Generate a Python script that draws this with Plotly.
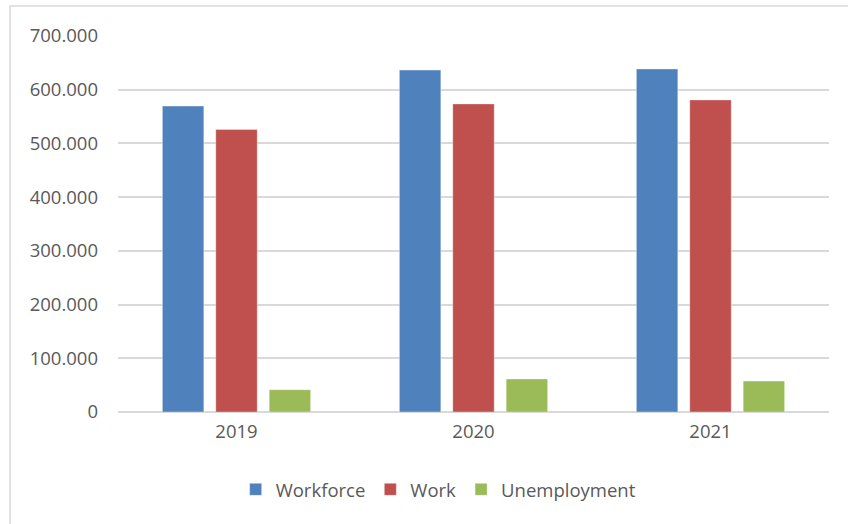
import plotly.graph_objects as go

# Labour market figures by year
years = ["2019", "2020", "2021"]
workforce = [569500, 636500, 638500]
work = [526000, 573500, 581000]
unemployment = [41500, 61500, 57500]

series_names = ["Workforce", "Work", "Unemployment"]
series_colors = ["#4F81BD", "#C0504D", "#9BBB59"]
y_ticks = [0, 100000, 200000, 300000, 400000, 500000, 600000, 700000]

fig = go.Figure()
for name, values, color in zip(series_names, [workforce, work, unemployment], series_colors):
    fig.add_trace(go.Bar(
        x=years, y=values, name=name,
        marker=dict(color=color, line=dict(color="rgba(255,255,255,0.35)", width=1)),
    ))

text_font = dict(family="Open Sans, Lato, sans-serif", size=18.5, color="#595959")

fig.update_layout(
    width=848, height=524,
    margin=dict(l=118, r=19, t=36, b=112),
    paper_bgcolor="white", plot_bgcolor="white",
    separators=",.",
    barmode="group", bargap=0.324, bargroupgap=0.224,
    font=text_font,
    showlegend=True,
    legend=dict(
        orientation="h", x=0.451, xanchor="center", y=-0.207, yanchor="middle",
        font=text_font, itemwidth=30, traceorder="normal",
    ),
    xaxis=dict(
        showgrid=False, showline=False, zeroline=False,
        tickfont=text_font, ticklabelstandoff=6,
    ),
    yaxis=dict(
        range=[0, 700000], tickvals=y_ticks, tickformat=",",
        showgrid=True, gridcolor="#D9D9D9", gridwidth=1.5,
        zeroline=True, zerolinecolor="#D9D9D9", zerolinewidth=1.5,
        showline=False, tickfont=text_font, ticklabelstandoff=19,
    ),
    shapes=[dict(
        type="rect", xref="paper", yref="paper",
        x0=(10 - 118) / 711, x1=1.2, y0=-0.6, y1=(412 - 6) / 376,
        line=dict(color="#D9D9D9", width=1.5), fillcolor="rgba(0,0,0,0)",
        layer="below",
    )],
)

fig.write_html("out.html")
